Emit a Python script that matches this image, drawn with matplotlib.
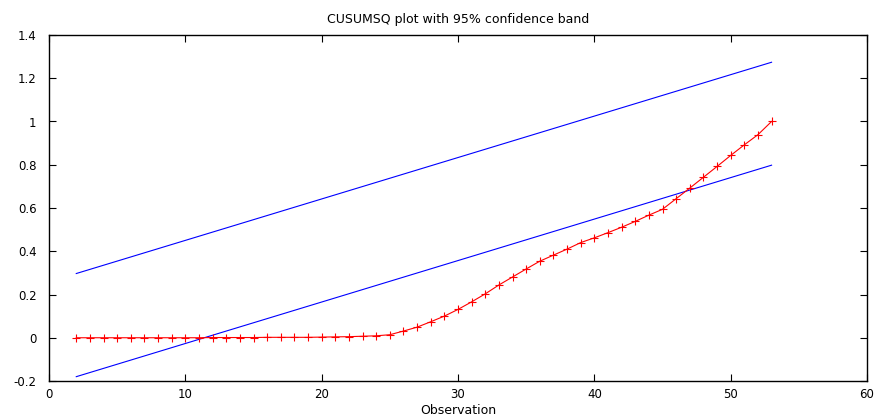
import numpy as np
import matplotlib
matplotlib.use("Agg")
import matplotlib.pyplot as plt

# CUSUMSQ values per observation
obs = list(range(2, 54))
cusumsq = [0.000, 0.000, 0.000, 0.000, 0.000, 0.000, 0.000, 0.000, 0.000, 0.000,
           0.001, 0.001, 0.001, 0.001, 0.002, 0.002, 0.002, 0.002, 0.003, 0.004,
           0.005, 0.007, 0.009, 0.014, 0.031, 0.049, 0.074, 0.100, 0.131, 0.166,
           0.203, 0.244, 0.281, 0.318, 0.354, 0.382, 0.410, 0.440, 0.462, 0.486,
           0.511, 0.538, 0.567, 0.594, 0.643, 0.692, 0.742, 0.792, 0.843, 0.892,
           0.939, 1.000]

# 95% confidence band endpoints
band_x = [2, 53]
upper = [0.297, 1.274]
lower = [-0.180, 0.798]

fig = plt.figure(figsize=(8.77, 4.15), dpi=100)
ax = fig.add_axes([49/877, 1 - 381/415, (867-49)/877, (381-35)/415])

ax.plot(band_x, upper, color='blue', lw=0.8)
ax.plot(band_x, lower, color='blue', lw=0.8)
ax.plot(obs, cusumsq, color='red', lw=0.8, marker='+', markersize=6, markeredgewidth=0.8)

ax.set_xlim(0, 60)
ax.set_ylim(-0.2, 1.4)
ax.set_xticks(range(0, 61, 10))
ax.set_yticks([-0.2, 0, 0.2, 0.4, 0.6, 0.8, 1, 1.2, 1.4])
ax.set_yticklabels(['-0.2', '0', '0.2', '0.4', '0.6', '0.8', '1', '1.2', '1.4'])
ax.tick_params(direction='in', top=True, right=True, length=5, width=0.8, labelsize=8.5)
ax.tick_params(axis='y', pad=9)
ax.tick_params(axis='x', pad=5)
for s in ax.spines.values():
    s.set_linewidth(1)

ax.set_title("CUSUMSQ plot with 95% confidence band", fontsize=9, pad=9)
ax.set_xlabel("Observation", fontsize=9, labelpad=2)

fig.savefig("out.png", dpi=100)
